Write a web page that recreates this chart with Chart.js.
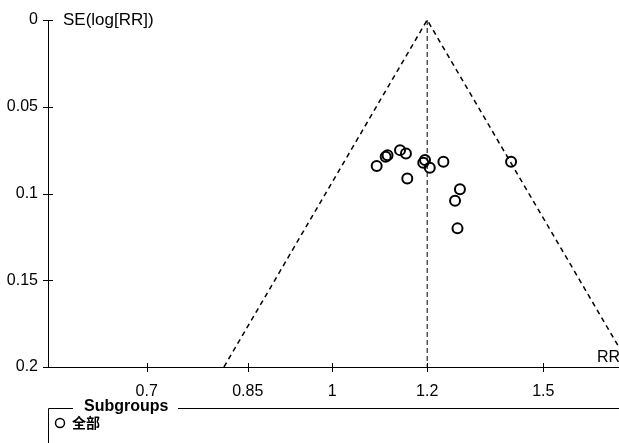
<!DOCTYPE html>
<html>
<head>
<meta charset="utf-8">
<script src="https://cdn.jsdelivr.net/npm/chart.js@4"></script>
<style>
  body { margin: 0; background: #fff; }
  #wrap { width: 619px; height: 443px; }
</style>
</head>
<body>
<div id="wrap"><canvas id="funnel" width="619" height="443"></canvas></div>
<script>
// study estimates
let rrValues = [1.089, 1.108, 1.112, 1.139, 1.152, 1.155, 1.191, 1.195, 1.206, 1.238, 1.278, 1.266, 1.272, 1.410];
let seValues = [0.0842, 0.0788, 0.0779, 0.0750, 0.0769, 0.0913, 0.0823, 0.0807, 0.0852, 0.0817, 0.0976, 0.1042, 0.1201, 0.0817];

// funnel outline and pooled line
let funnelRR = [0.812, 1.2, 1.774];
let funnelSE = [0.2, 0, 0.2];
let pooledRR = [1.2, 1.2];
let pooledSE = [0, 0.2];

let xTicks = [0.7, 0.85, 1, 1.2, 1.5];
let yTicks = [0, 0.05, 0.1, 0.15, 0.2];
let xRange = [0.579, 1.735];

let yTitle = 'SE(log[RR])';
let xTitle = 'RR';
let legendTitle = 'Subgroups';
let subgroupName = '全部';

let tickFont = { family: "'Liberation Sans', Arial, sans-serif", size: 16 };

function toPoints(xs, ys) {
    let pts = [];
    for (let i = 0; i < xs.length; i++) {
        pts.push({ x: xs[i], y: ys[i] });
    }
    return pts;
}

// crossing tick marks, titles and the subgroup box
let extras = {
    id: 'extras',
    afterDraw(chart) {
        let ctx = chart.ctx;
        let xs = chart.scales.x;
        let ys = chart.scales.y;
        let area = chart.chartArea;
        ctx.save();
        ctx.strokeStyle = '#000';
        ctx.lineWidth = 1;
        ctx.beginPath();
        for (let v of yTicks) {
            let py = Math.round(ys.getPixelForValue(v)) + 0.5;
            ctx.moveTo(area.left - 5, py);
            ctx.lineTo(area.left + 5, py);
        }
        for (let v of xTicks) {
            let px = Math.round(xs.getPixelForValue(v)) + 0.5;
            ctx.moveTo(px, area.bottom - 4);
            ctx.lineTo(px, area.bottom + 5);
        }
        ctx.stroke();

        ctx.fillStyle = '#000';
        ctx.font = "17px 'Liberation Sans', Arial, sans-serif";
        ctx.textBaseline = 'alphabetic';
        ctx.textAlign = 'left';
        ctx.fillText(yTitle, 63, 25);
        ctx.font = "16px 'Liberation Sans', Arial, sans-serif";
        ctx.fillText(xTitle, 597, 362);

        // subgroup box
        ctx.beginPath();
        ctx.moveTo(48.5, 443);
        ctx.lineTo(48.5, 408.5);
        ctx.lineTo(73, 408.5);
        ctx.moveTo(178, 408.5);
        ctx.lineTo(619, 408.5);
        ctx.stroke();
        ctx.font = "bold 16px 'Liberation Sans', Arial, sans-serif";
        ctx.fillText(legendTitle, 84, 411);

        ctx.lineWidth = 1.5;
        ctx.beginPath();
        ctx.arc(60, 423, 4.5, 0, Math.PI * 2);
        ctx.stroke();
        ctx.font = "bold 14px 'Noto Sans CJK SC', sans-serif";
        ctx.fillText(subgroupName, 72, 428);
        ctx.restore();
    }
};

let ctx = document.getElementById('funnel').getContext('2d');
let funnelChart = new Chart(ctx, {
    type: 'scatter',
    data: {
        datasets: [{
            label: subgroupName,
            data: toPoints(rrValues, seValues),
            pointStyle: 'circle',
            pointRadius: 5,
            pointBorderWidth: 2,
            pointBorderColor: '#000',
            pointBackgroundColor: 'rgba(0,0,0,0)',
            order: 0
        }, {
            label: 'funnel',
            data: toPoints(funnelRR, funnelSE),
            showLine: true,
            pointRadius: 0,
            borderColor: '#000',
            borderWidth: 1.5,
            borderDash: [5, 4],
            order: 1
        }, {
            label: 'pooled',
            data: toPoints(pooledRR, pooledSE),
            showLine: true,
            pointRadius: 0,
            borderColor: '#000',
            borderWidth: 1,
            borderDash: [5, 3],
            order: 2
        }]
    },
    options: {
        responsive: false,
        animation: false,
        devicePixelRatio: 1,
        layout: { autoPadding: false, padding: { top: 20, left: 0, right: 0, bottom: 0 } },
        plugins: {
            legend: { display: false },
            tooltip: { enabled: false }
        },
        scales: {
            x: {
                type: 'logarithmic',
                min: xRange[0],
                max: xRange[1],
                afterBuildTicks: (scale) => {
                    scale.ticks = xTicks.map(v => ({ value: v }));
                },
                afterFit: (scale) => {
                    scale.height = 76;
                    scale.paddingLeft = 0;
                    scale.paddingRight = 0;
                },
                grid: { display: false, drawTicks: false },
                border: { display: true, color: '#000', width: 1 },
                ticks: {
                    color: '#000',
                    font: tickFont,
                    padding: 15,
                    autoSkip: false,
                    maxRotation: 0,
                    callback: (v) => String(v)
                }
            },
            y: {
                type: 'linear',
                reverse: true,
                min: 0,
                max: 0.2,
                afterBuildTicks: (scale) => {
                    scale.ticks = yTicks.map(v => ({ value: v }));
                },
                afterFit: (scale) => { scale.width = 48; },
                grid: { display: false, drawTicks: false },
                border: { display: true, color: '#000', width: 1 },
                ticks: {
                    color: '#000',
                    font: tickFont,
                    padding: 10,
                    callback: (v) => String(v)
                }
            }
        }
    },
    plugins: [extras]
});
</script>
</body>
</html>
